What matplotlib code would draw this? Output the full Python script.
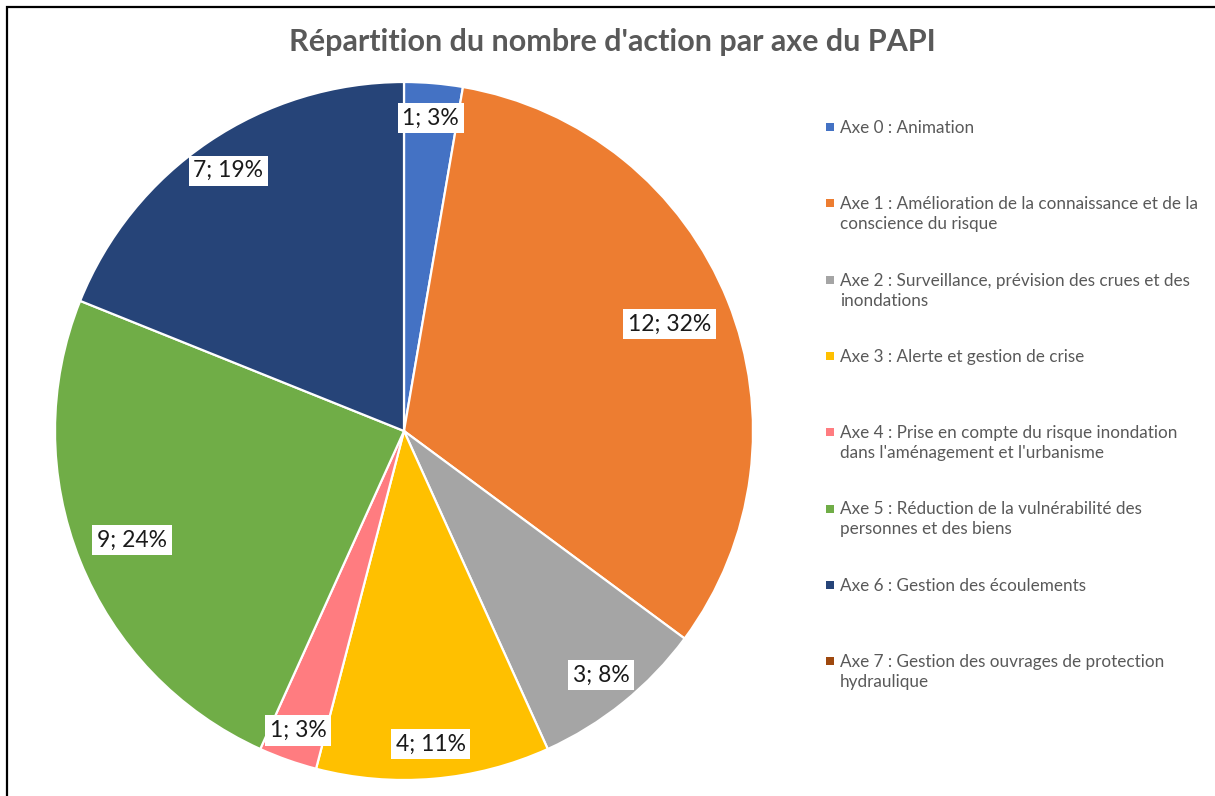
import matplotlib
matplotlib.use("Agg")
import matplotlib.pyplot as plt
from matplotlib.patches import Rectangle
import numpy as np

categories = [
    "Axe 0 : Animation",
    "Axe 1 : Amélioration de la connaissance et de la\nconscience du risque",
    "Axe 2 : Surveillance, prévision des crues et des\ninondations",
    "Axe 3 : Alerte et gestion de crise",
    "Axe 4 : Prise en compte du risque inondation\ndans l'aménagement et l'urbanisme",
    "Axe 5 : Réduction de la vulnérabilité des\npersonnes et des biens",
    "Axe 6 : Gestion des écoulements",
    "Axe 7 : Gestion des ouvrages de protection\nhydraulique",
]
values = [1, 12, 3, 4, 1, 9, 7, 0]
colors = ["#4472C4", "#ED7D31", "#A5A5A5", "#FFC000", "#FF7C80",
          "#70AD47", "#264478", "#9E480E"]
label_radius = [0.90, 0.82, 0.90, 0.90, 0.91, 0.84, 0.90, 0.90]

plt.rcParams['font.family'] = ['Lato', 'DejaVu Sans']

W, H = 1215, 796
fig = plt.figure(figsize=(W / 100, H / 100), dpi=100)
fig.patch.set_facecolor("white")

# Pie axes: centre (404, 431) px, radius ~349 px
cx, cy, r = 404, 431, 349
ax = fig.add_axes([(cx - r) / W, (H - cy - r) / H, 2 * r / W, 2 * r / H])
ax.set_aspect("equal")

idx = [i for i, v in enumerate(values) if v > 0]
pv = [values[i] for i in idx]
pc = [colors[i] for i in idx]
wedges, _ = ax.pie(pv, colors=pc, startangle=90, counterclock=False,
                   radius=1.0,
                   wedgeprops=dict(edgecolor="white", linewidth=1.6))
ax.set_xlim(-1.0, 1.0)
ax.set_ylim(-1.0, 1.0)

total = sum(values)
for w, i in zip(wedges, idx):
    ang = np.deg2rad((w.theta1 + w.theta2) / 2)
    d = label_radius[i]
    pct = int(round(100 * values[i] / total))
    ax.text(d * np.cos(ang), d * np.sin(ang), f"{values[i]}; {pct}%",
            ha="center", va="center", fontsize=16.5, color="#1a1a1a",
            bbox=dict(boxstyle="square,pad=0.2", fc="white", ec="none"))

# Title
fig.text(612 / W, 1 - 42 / H, "Répartition du nombre d'action par axe du PAPI",
         ha="center", va="center", fontsize=22, fontweight="bold",
         color="#595959")

# Legend (manual, to match Excel layout)
y0, step = 127, 76.3
for k, (lab, col) in enumerate(zip(categories, colors)):
    yy = y0 + k * step
    fig.patches.append(Rectangle(((826) / W, 1 - (yy + 4) / H), 8 / W, 8 / H,
                                 transform=fig.transFigure, fc=col, ec="none"))
    fig.text(840 / W, 1 - (yy - 7) / H, lab, ha="left", va="top",
             fontsize=12.3, color="#595959", linespacing=1.3)

# Frame (left and top edges visible)
fig.patches.append(Rectangle((7 / W, -0.05), 1.2, 1 - 7 / H + 0.05,
                             transform=fig.transFigure, fill=False,
                             ec="black", lw=1.6))

fig.savefig("out.png", dpi=100, facecolor="white")
